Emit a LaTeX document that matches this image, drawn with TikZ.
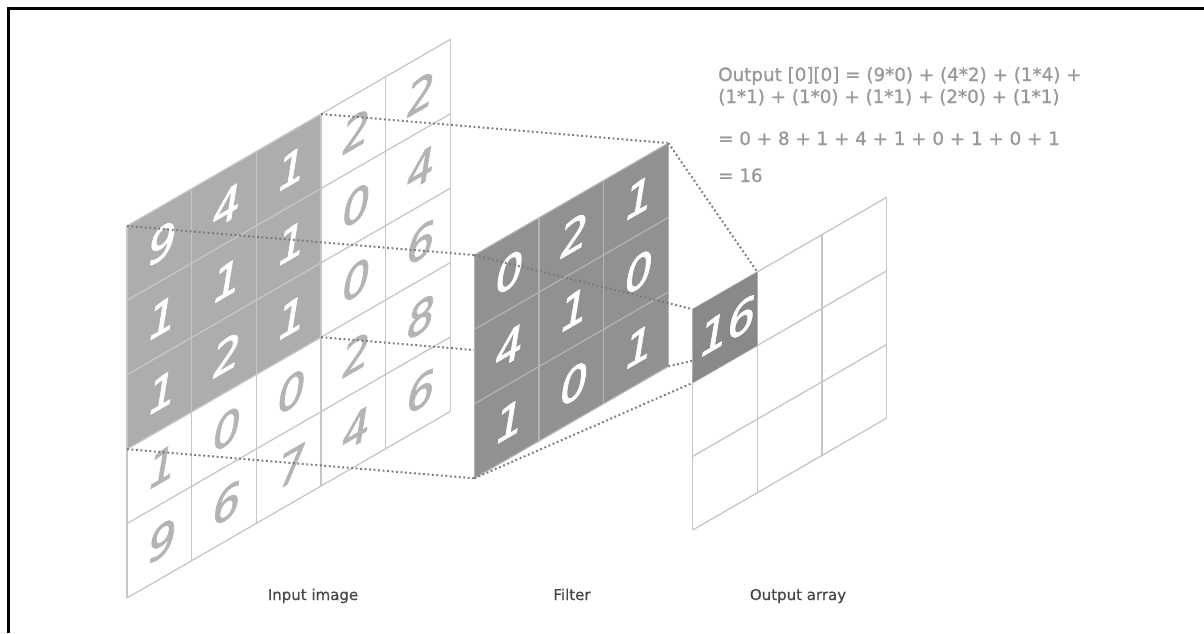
\documentclass[tikz,border=0pt]{standalone}
\usepackage{fontspec}
\setmainfont{DejaVu Sans}[FakeBold=0.6]
\newfontfamily\formfont{DejaVu Sans}[FakeBold=1.2]
\newfontfamily\digfont{DejaVu Sans}[FakeBold=1.6,FakeSlant=0.18]
\definecolor{gridc}{HTML}{C6C6C6}
\definecolor{gridf}{HTML}{B4B4B4}
\definecolor{shadeIn}{HTML}{ADADAD}
\definecolor{shadeF}{HTML}{919191}
\definecolor{shadeO}{HTML}{898989}
\definecolor{diggray}{HTML}{B4B4B4}
\definecolor{dotc}{HTML}{7A7A7A}
\definecolor{formc}{HTML}{999999}
\definecolor{labc}{HTML}{474747}
\begin{document}
\begin{tikzpicture}[x=1pt,y=-1pt,
  gridline/.style={draw=gridc, line width=1.3pt},
  fline/.style={draw=gridf, line width=1.2pt},
  dotline/.style={draw=dotc, line width=2pt, dash pattern=on 1.8pt off 2.7pt},
  dig/.style={transform shape, inner sep=0pt, font=\digfont\fontsize{44}{44}\selectfont},
  formula/.style={anchor=base west, inner sep=0pt, text=formc, font=\formfont\fontsize{18.3}{22}\selectfont},
  caption/.style={anchor=base, inner sep=0pt, text=labc, font=\fontsize{15}{18}\selectfont},
  inframe/.style={shift={(127pt,-598pt)}, yslant=0.577, x=64.7pt, y=74.4pt},
  filterframe/.style={shift={(474.3pt,-478.3pt)}, yslant=0.577, x=64.7pt, y=74.4pt},
  outframe/.style={shift={(692.7pt,-530pt)}, yslant=0.577, x=64.6pt, y=73.6pt}]
\useasboundingbox (0,0) rectangle (1204,633);
% frame
\draw[line width=2.7pt, black, line join=miter] (8.7,633) -- (8.7,8.7) -- (1204,8.7);

% ---------- input image ----------
\begin{scope}[inframe]
  \fill[shadeIn] (0,2) rectangle (3,5);
  \foreach \i in {0,...,5} {
    \draw[gridline] (\i,0) -- (\i,5);
    \draw[gridline] (0,\i) -- (5,\i);
  }
  \coordinate (inTL) at (0,5);
  \coordinate (inTR) at (3,5);
  \coordinate (inBR) at (3,2);
  \coordinate (inBL) at (0,2);
  \foreach \rowv [count=\ri from 0] in {{9,4,1,2,2},{1,1,1,0,4},{1,2,1,0,6},{1,0,0,2,8},{9,6,7,4,6}} {
    \foreach \d [count=\ci from 0] in \rowv {
      \pgfmathtruncatemacro\sh{and(\ri<3,\ci<3)}
      \ifnum\sh=1 \def\dc{white}\else\def\dc{diggray}\fi
      \node[dig, text=\dc] (in-\ri-\ci) at (\ci+0.5, 4.5-\ri) {\d};
    }
  }
\end{scope}

% filter corner coordinates
\begin{scope}[filterframe]
  \coordinate (fTL) at (0,3);
  \coordinate (fTR) at (3,3);
  \coordinate (fBR) at (3,0);
  \coordinate (fBL) at (0,0);
\end{scope}

% dotted lines input -> filter
\draw[dotline] (inTL) -- (fTL);
\draw[dotline] (inTR) -- (fTR);
\draw[dotline] (inBR) -- (fBR);
\draw[dotline] (inBL) -- (fBL);

% ---------- filter ----------
\begin{scope}[filterframe]
  \fill[shadeF] (0,0) rectangle (3,3);
  \foreach \i in {0,...,3} {
    \draw[fline] (\i,0) -- (\i,3);
    \draw[fline] (0,\i) -- (3,\i);
  }
  \foreach \rowv [count=\ri from 0] in {{0,2,1},{4,1,0},{1,0,1}} {
    \foreach \d [count=\ci from 0] in \rowv {
      \node[dig, text=white] (f-\ri-\ci) at (\ci+0.5, 2.5-\ri) {\d};
    }
  }
\end{scope}

% output cell coordinates
\begin{scope}[outframe]
  \coordinate (oTL) at (0,3);
  \coordinate (oTR) at (1,3);
  \coordinate (oBR) at (1,2);
  \coordinate (oBL) at (0,2);
\end{scope}

% dotted lines filter -> output
\draw[dotline] (fTL) -- (oTL);
\draw[dotline] (fTR) -- (oTR);
\draw[dotline] (fBR) -- (oBR);
\draw[dotline] (fBL) -- (oBL);

% ---------- output ----------
\begin{scope}[outframe]
  \fill[white] (0,0) rectangle (3,3);
  \foreach \i in {0,...,3} {
    \draw[gridline] (\i,0) -- (\i,3);
    \draw[gridline] (0,\i) -- (3,\i);
  }
  \fill[shadeO] (0,2) rectangle (1,3);
  \node[dig, text=white] (o-0-0) at (0.5,2.5) {16};
\end{scope}

% ---------- formula ----------
\node[formula] (f1) at (718,81) {Output [0][0] = (9*0) + (4*2) + (1*4) +};
\node[formula] (f2) at (718,103) {(1*1) + (1*0) + (1*1) + (2*0) + (1*1)};
\node[formula] (f3) at (718,145) {= 0 + 8 + 1 + 4 + 1 + 0 + 1 + 0 + 1};
\node[formula] (f4) at (718,182) {= 16};

% ---------- captions ----------
\node[caption] (lblIn) at (313,600) {Input image};
\node[caption] (lblF) at (572,600) {Filter};
\node[caption] (lblOut) at (798,600) {Output array};
\end{tikzpicture}
\end{document}
